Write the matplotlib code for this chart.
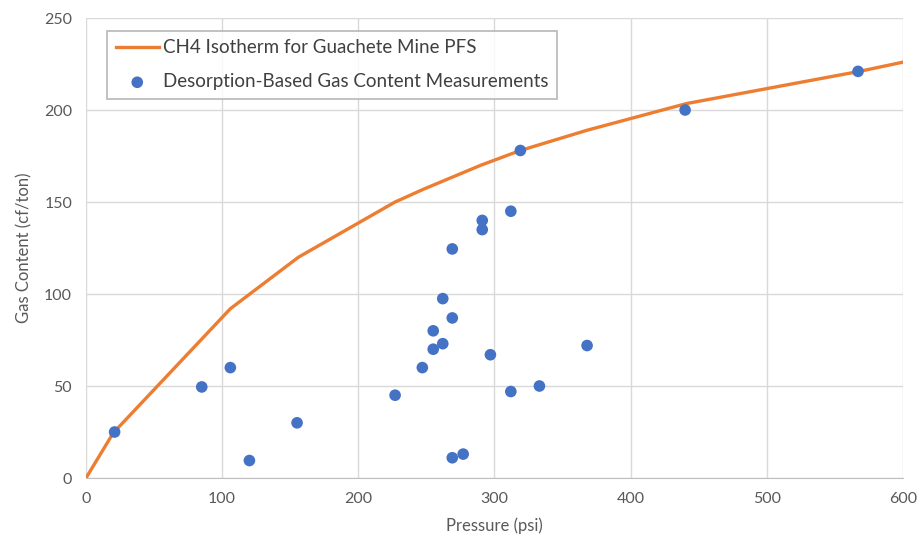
import matplotlib
matplotlib.use("Agg")
import matplotlib.pyplot as plt

# isotherm vertices (psi, cf/ton)
iso_p = [0, 20, 106, 156, 227, 248, 290, 319, 368, 441, 568, 600]
iso_g = [0, 24.5, 92, 120, 150, 157, 170, 178, 189, 203.5, 221, 226]

# desorption measurements
meas_p = [21, 85, 106, 120, 155, 227, 247, 255, 255, 262, 262, 269, 269, 269,
          277, 291, 291, 297, 312, 312, 319, 333, 368, 440, 567]
meas_g = [25, 49.5, 60, 9.5, 30, 45, 60, 70, 80, 73, 97.5, 87, 124.5, 11,
          13, 140, 135, 67, 145, 47, 178, 50, 72, 200, 221]

plt.rcParams["font.family"] = ["Lato", "DejaVu Sans"]

fig = plt.figure(figsize=(9.17, 5.44), dpi=100)
ax = fig.add_axes([0.0938, 0.1213, 0.8909, 0.8456])

ax.plot(iso_p, iso_g, color="#ED7D31", lw=2.4, label="CH4 Isotherm for Guachete Mine PFS", zorder=3)
ax.scatter(meas_p, meas_g, s=70, color="#4472C4", label="Desorption-Based Gas Content Measurements",
           zorder=4, edgecolors="none")

ax.set_xlim(0, 600)
ax.set_ylim(0, 250)
ax.set_xticks(range(0, 601, 100))
ax.set_yticks(range(0, 251, 50))
ax.grid(True, color="#d9d9d9", lw=1)
ax.set_axisbelow(True)
for s in ["top", "right", "left"]:
    ax.spines[s].set_visible(False)
ax.spines["bottom"].set_color("#bfbfbf")
ax.tick_params(length=0, labelsize=11.5, colors="#595959", pad=10)

ax.set_xlabel("Pressure (psi)", fontsize=12, color="#595959", labelpad=8)
ax.set_ylabel("Gas Content (cf/ton)", fontsize=12, color="#595959", labelpad=8)

leg = ax.legend(loc="upper left", bbox_to_anchor=(0.026, 0.972), borderaxespad=0,
                fontsize=13.5, frameon=True, fancybox=False, edgecolor="#a6a6a6",
                borderpad=0.45, labelspacing=0.9, handlelength=2.3, handletextpad=0.2)
leg.get_frame().set_linewidth(1.2)
for t in leg.get_texts():
    t.set_color("#404040")

fig.savefig("out.png", dpi=100)
